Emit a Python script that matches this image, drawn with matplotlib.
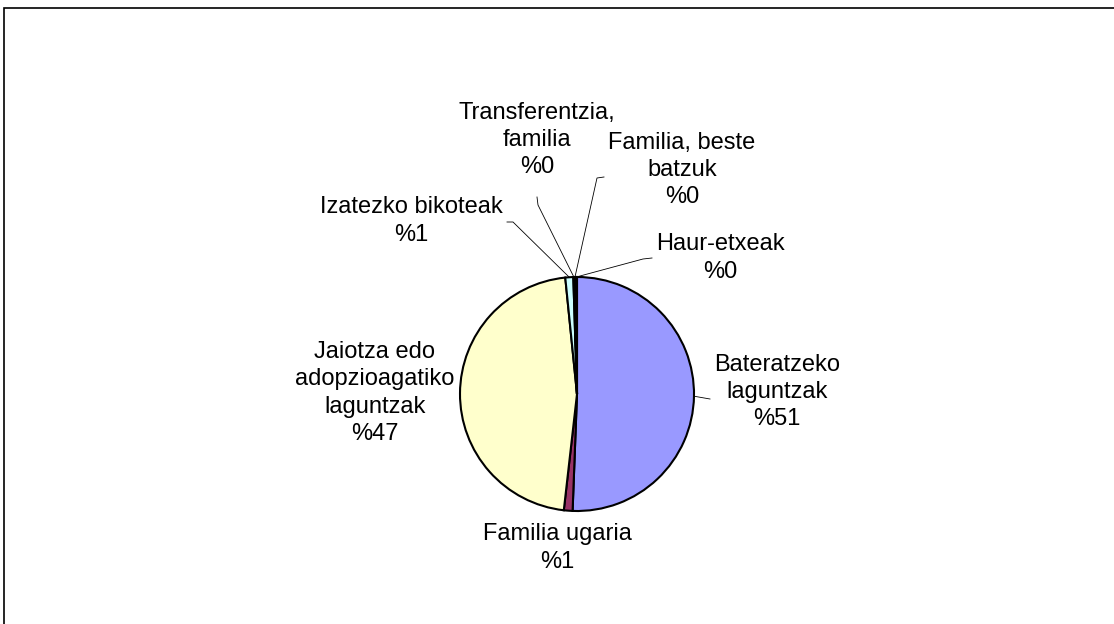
import numpy as np
import matplotlib.pyplot as plt
from matplotlib.patches import Rectangle

plt.rcParams['font.family'] = ['Liberation Sans', 'DejaVu Sans']

labels = ['Bateratzeko\nlaguntzak', 'Familia ugaria', 'Jaiotza edo\nadopzioagatiko\nlaguntzak',
          'Izatezko bikoteak', 'Transferentzia,\nfamilia', 'Familia, beste\nbatzuk', 'Haur-etxeak']
values = [50.6, 1.2, 46.6, 1.1, 0.15, 0.15, 0.2]
pct_text = ['%51', '%1', '%47', '%1', '%0', '%0', '%0']
colors = ['#9999FF', '#993366', '#FFFFCC', '#CCFFFF', '#660066', '#FF8080', '#0066CC']

W, H = 1114, 624
def P(x, y):
    return x, H - y

# label centres (px, top-left origin)
label_pos = [(777, 392), (557, 548), (375, 393), (411, 221), (537, 140), (682, 170), (720, 258)]
# leader polylines from label towards the slice (None = no leader)
leader_pts = [[(710, 399)], None, None,
              [(507, 222), (513, 222)],
              [(537, 197), (538, 205)],
              [(604, 177), (597, 178)],
              [(652, 258), (643, 259)]]

fig = plt.figure(figsize=(W / 100, H / 100), dpi=100)
ax = fig.add_axes([0, 0, 1, 1])

cx, cy = P(577, 394)
R = 117
wedges, _ = ax.pie(values, colors=colors, startangle=90, counterclock=False,
                   center=(cx, cy), radius=R,
                   wedgeprops=dict(edgecolor='black', linewidth=1.5))
ax.set_xlim(0, W)
ax.set_ylim(0, H)
ax.set_aspect('equal')
ax.axis('off')

for i, w in enumerate(wedges):
    ang = np.deg2rad((w.theta1 + w.theta2) / 2)
    ex, ey = cx + R * np.cos(ang), cy + R * np.sin(ang)
    if leader_pts[i] is not None:
        pts = [P(*p) for p in leader_pts[i]] + [(ex, ey)]
        xs, ys = zip(*pts)
        ax.plot(xs, ys, color='black', lw=0.6)
    tx, ty = P(*label_pos[i])
    ax.text(tx, ty, labels[i] + '\n' + pct_text[i], ha='center', va='center',
            fontsize=17, linespacing=1.3, color='black')

fig.patches.append(Rectangle((4 / W, -0.2), 1.2, 1.2 - 8 / H,
                             transform=fig.transFigure, fill=False,
                             edgecolor='black', linewidth=1.2))

fig.savefig('out.png', dpi=100, facecolor='white')
